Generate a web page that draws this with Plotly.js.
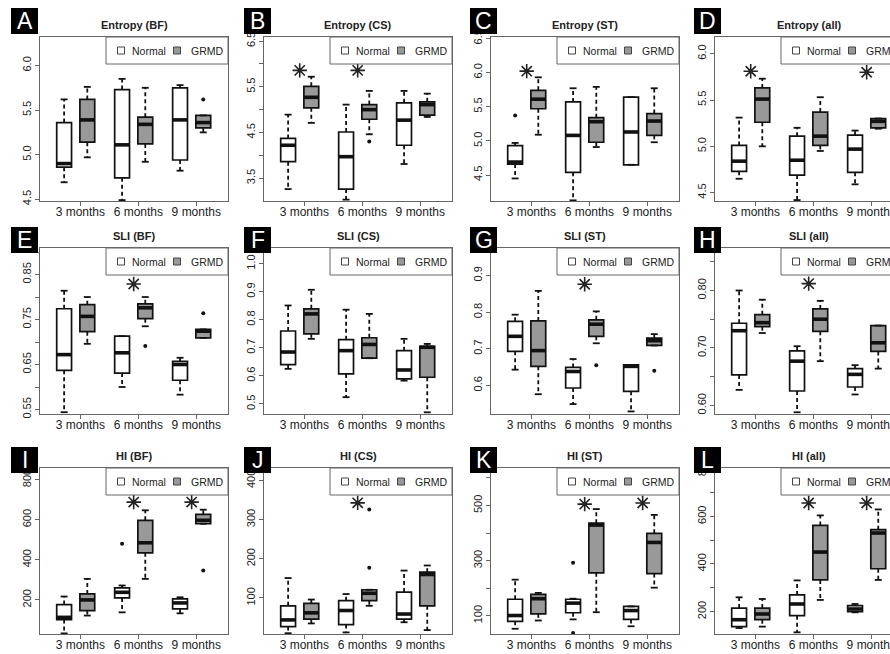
<!DOCTYPE html>
<html><head><meta charset="utf-8">
<script src="https://cdn.plot.ly/plotly-3.0.1.min.js"></script>
<style>html,body{margin:0;padding:0;overflow:hidden;background:#fff;width:890px;height:654px}</style>
</head><body><div id="chart" style="width:910px;height:654px"></div>
<script>
// ---------------- DATA ----------------
const panelLetters = ['A','B','C','D','E','F','G','H','I','J','K','L'];
const panelTitles = ['Entropy (BF)','Entropy (CS)','Entropy (ST)','Entropy (all)',
                     'SLI (BF)','SLI (CS)','SLI (ST)','SLI (all)',
                     'HI (BF)','HI (CS)','HI (ST)','HI (all)'];
const categories = ['3 months','6 months','9 months'];
const seriesNames = ['Normal','GRMD'];

// Normal: per panel [3 months, 6 months, 9 months]
const normalUpper = [[5.62,5.85,5.78],[4.89,5.11,5.41],[4.97,5.77,5.64],[5.31,5.20,5.17],
  [0.814,0.713,0.665],[0.851,0.836,0.732],[0.793,0.672,0.656],[0.800,0.703,0.670],
  [217,272,213],[151,110,170],[231,162,134],[260,331,232]];
const normalQ3 = [[5.36,5.73,5.75],[4.37,4.51,5.15],[4.93,5.57,5.64],[5.01,5.11,5.12],
  [0.774,0.713,0.657],[0.760,0.729,0.690],[0.775,0.649,0.656],[0.743,0.695,0.664],
  [177,260,205],[80,93,115],[160,160,134],[215,270,225]];
const normalMedian = [[4.90,5.11,5.39],[4.22,3.97,4.77],[4.69,5.08,5.13],[4.84,4.85,4.97],
  [0.672,0.676,0.650],[0.685,0.690,0.621],[0.734,0.638,0.652],[0.730,0.677,0.654],
  [113,238,185],[44,68,59],[101,146,119],[166,232,211]];
const normalQ1 = [[4.86,4.74,4.94],[3.86,3.26,4.22],[4.66,4.54,4.65],[4.73,4.69,4.72],
  [0.637,0.631,0.615],[0.640,0.607,0.589],[0.693,0.593,0.584],[0.653,0.625,0.632],
  [102,210,155],[27,32,46],[80,111,87],[137,183,200]];
const normalLower = [[4.69,4.49,4.82],[3.26,3.03,3.81],[4.45,4.13,4.65],[4.65,4.42,4.59],
  [0.544,0.600,0.583],[0.625,0.524,0.583],[0.643,0.549,0.529],[0.627,0.588,0.619],
  [33,138,133],[10,12,38],[53,87,62],[131,113,197]];

// GRMD: per panel [3 months, 6 months, 9 months]
const grmdUpper = [[5.76,5.75,5.44],[5.72,5.41,5.35],[5.93,5.79,5.77],[5.73,5.53,5.30],
  [0.800,0.800,0.728],[0.907,0.821,0.714],[0.858,0.802,0.740],[0.784,0.782,0.739],
  [305,647,650],[96,121,183],[183,487,466],[253,604,629]];
const grmdQ3 = [[5.62,5.42,5.44],[5.51,5.11,5.17],[5.74,5.34,5.40],[5.63,5.37,5.30],
  [0.783,0.785,0.728],[0.839,0.736,0.705],[0.776,0.779,0.729],[0.758,0.768,0.739],
  [230,597,627],[86,121,166],[178,436,399],[215,562,544]];
const grmdMedian = [[5.39,5.34,5.36],[5.27,5.00,5.11],[5.61,5.28,5.29],[5.51,5.11,5.27],
  [0.757,0.776,0.724],[0.821,0.712,0.702],[0.695,0.767,0.722],[0.744,0.750,0.709],
  [200,485,597],[62,112,160],[162,429,366],[190,450,530]];
const grmdQ1 = [[5.14,5.12,5.30],[5.04,4.79,4.88],[5.47,4.98,5.08],[5.26,5.01,5.20],
  [0.723,0.752,0.709],[0.750,0.663,0.595],[0.652,0.734,0.709],[0.737,0.729,0.694],
  [147,435,580],[46,93,80],[107,256,253],[166,333,380]];
const grmdLower = [[4.97,4.92,5.25],[4.71,4.46,4.84],[5.09,4.91,4.98],[5.00,4.95,5.19],
  [0.696,0.735,0.709],[0.732,0.663,0.470],[0.576,0.715,0.709],[0.726,0.677,0.664],
  [122,305,580],[35,80,18],[83,113,202],[137,249,333]];

// Outliers (panel index, series 0=Normal 1=GRMD, group index, value)
const outlierPanel  = [0,1,2,4,4,6,6,8,8,9,9,10,10];
const outlierSeries = [1,1,0,1,1,1,1,0,1,1,1,0,0];
const outlierGroup  = [2,1,0,1,2,1,2,1,2,1,1,1,1];
const outlierValue  = [5.62,4.30,5.37,0.691,0.764,0.655,0.640,480,347,326,177,292,38];

// Significance stars (panel index, group index, value)
const starPanel = [1,1,2,3,3,4,6,7,8,8,9,10,10,11,11];
const starGroup = [0,1,0,0,2,1,1,1,1,2,1,1,2,1,2];
const starValue = [5.86,5.86,6.02,5.81,5.80,0.829,0.876,0.812,688,688,343,505,509,656,656];

// Axes
const yRanges = [[4.48,6.32],[3.0,6.59],[4.12,6.52],[4.41,6.18],
  [0.54,0.909],[0.464,1.056],[0.522,0.975],[0.585,0.874],
  [30,858],[8,432],[34,636],[106,803]];
const yTickVals = [[4.5,5,5.5,6],[3.5,4,4.5,5,5.5,6,6.5],[4.5,5,5.5,6,6.5],[4.5,5,5.5,6],
  [0.55,0.6,0.65,0.7,0.75,0.8,0.85,0.9],[0.5,0.6,0.7,0.8,0.9,1.0],[0.6,0.7,0.8,0.9],[0.6,0.65,0.7,0.75,0.8,0.85],
  [200,400,600,800],[100,200,300,400],[100,200,300,400,500,600],[200,300,400,500,600,700,800]];
const yTickText = [['4.5','5.0','5.5','6.0'],['3.5','','4.5','','5.5','','6.5'],['4.5','5.0','5.5','6.0','6.5'],['4.5','5.0','5.5','6.0'],
  ['0.55','','0.65','','0.75','','0.85',''],['0.5','0.6','0.7','0.8','0.9','1.0'],['0.6','0.7','0.8','0.9'],['0.60','','0.70','','0.80',''],
  ['200','400','600','800'],['100','200','300','400'],['100','','300','','500',''],['200','','400','','600','','800']];

// ---------------- LAYOUT GEOMETRY ----------------
const W = 910, H = 654;
const colLeft = [40, 264, 491, 715], plotW = 188;
const rowTop = [37, 248, 468], rowBot = [201, 414, 634];
const letterX = [11, 244, 470, 694], letterY = [8, 227, 447], letterW = 27, letterH = 26;
const xRange = [0.304, 3.547];
const groupPos = [1, 2, 3];
const seriesOffset = [-0.28, 0.12];
const boxW = 0.256, capW = 0.12;
const fills = ['#ffffff', '#999999'];
const ink = '#111111', frame = '#666666';
const FONT = 'Liberation Sans, Arial, Helvetica, sans-serif';
const px = v => v / W, py = v => 1 - v / H;

const traces = [], shapes = [], annotations = [];
const layout = {
  width: W, height: H, margin: {l:0, r:0, t:0, b:0},
  paper_bgcolor: '#fff', plot_bgcolor: '#fff', showlegend: false,
  boxmode: 'overlay', font: {family: FONT, color: '#222'}
};

const stats = [
  [normalLower, normalQ1, normalMedian, normalQ3, normalUpper],
  [grmdLower, grmdQ1, grmdMedian, grmdQ3, grmdUpper]
];

for (let p = 0; p < 12; p++) {
  const r = Math.floor(p / 4), c = p % 4;
  const sfx = p === 0 ? '' : String(p + 1);
  const xa = 'x' + sfx, ya = 'y' + sfx;
  const L = colLeft[c], R = colLeft[c] + plotW, T = rowTop[r], B = rowBot[r];

  layout['xaxis' + sfx] = {
    domain: [px(L), px(R)], range: xRange, anchor: ya,
    tickmode: 'array', tickvals: groupPos, ticktext: categories,
    showline: true, mirror: true, linecolor: frame, linewidth: 1,
    ticks: 'outside', ticklen: 4, tickcolor: frame, tickwidth: 1,
    ticklabelstandoff: -4,
    tickfont: {size: 12, color: '#222', family: FONT},
    showgrid: false, zeroline: false, fixedrange: true
  };
  layout['yaxis' + sfx] = {
    domain: [py(B), py(T)], range: yRanges[p], anchor: xa,
    tickmode: 'array', tickvals: yTickVals[p], ticktext: yTickText[p], tickangle: -90,
    showline: true, mirror: true, linecolor: frame, linewidth: 1,
    ticks: 'outside', ticklen: 4, tickcolor: frame, tickwidth: 1,
    tickfont: {size: 11, color: '#222', family: FONT},
    showgrid: false, zeroline: false, fixedrange: true
  };

  const wx = [], wy = [], cx = [], cy = [], mx = [], my = [];
  for (let s = 0; s < 2; s++) {
    const [lo, q1, med, q3, hi] = stats[s].map(a => a[p]);
    const pos = groupPos.map(g => g + seriesOffset[s]);
    traces.push({
      type: 'box', name: seriesNames[s], x: pos,
      q1: q1, median: med, q3: q3, lowerfence: q1, upperfence: q3,
      width: boxW, whiskerwidth: 0, boxpoints: false,
      fillcolor: fills[s], line: {color: ink, width: 1.7},
      xaxis: xa, yaxis: ya, hoverinfo: 'skip', showlegend: false
    });
    pos.forEach((x, i) => {
      wx.push(x, x, null, x, x, null);
      wy.push(q3[i], hi[i], null, q1[i], lo[i], null);
      cx.push(x - capW/2, x + capW/2, null, x - capW/2, x + capW/2, null);
      cy.push(hi[i], hi[i], null, lo[i], lo[i], null);
      mx.push(x - boxW/2, x + boxW/2, null);
      my.push(med[i], med[i], null);
    });
  }
  traces.push({type:'scatter', mode:'lines', x:wx, y:wy, xaxis:xa, yaxis:ya,
    line:{color:ink, width:1.8, dash:'4px,3px'}, hoverinfo:'skip', showlegend:false});
  traces.push({type:'scatter', mode:'lines', x:cx, y:cy, xaxis:xa, yaxis:ya,
    line:{color:ink, width:1.8}, hoverinfo:'skip', showlegend:false});
  traces.push({type:'scatter', mode:'lines', x:mx, y:my, xaxis:xa, yaxis:ya,
    line:{color:ink, width:3.6}, hoverinfo:'skip', showlegend:false});

  const ox = [], oy = [];
  outlierPanel.forEach((pp, k) => {
    if (pp === p) { ox.push(groupPos[outlierGroup[k]] + seriesOffset[outlierSeries[k]]); oy.push(outlierValue[k]); }
  });
  traces.push({type:'scatter', mode:'markers', x:ox, y:oy, xaxis:xa, yaxis:ya,
    marker:{color:ink, size:4}, hoverinfo:'skip', showlegend:false});

  const sx = [], sy = [];
  starPanel.forEach((pp, k) => {
    if (pp === p) { sx.push(groupPos[starGroup[k]] + (seriesOffset[0] + seriesOffset[1]) / 2); sy.push(starValue[k]); }
  });
  traces.push({type:'scatter', mode:'markers', x:sx, y:sy, xaxis:xa, yaxis:ya,
    marker:{symbol:'asterisk-open', size:12, color:'#222', line:{color:'#222', width:1.6}},
    hoverinfo:'skip', showlegend:false});

  // panel title
  annotations.push({xref:'paper', yref:'paper', x:px((L + R) / 2), y:py(T - 12),
    text:'<b>' + panelTitles[p] + '</b>', showarrow:false, xanchor:'center', yanchor:'middle',
    font:{size:11, color:'#222', family:FONT}});

  // legend box
  const lgL = L + 66, lgB = T + 27, lgMid = T + 13.5;
  shapes.push({type:'rect', xref:'paper', yref:'paper', x0:px(lgL), x1:px(R), y0:py(lgB), y1:py(T),
    fillcolor:'#fff', line:{color:frame, width:1}, layer:'above'});
  const keyX = [lgL + 15, lgL + 71], textX = [lgL + 25, lgL + 84];
  for (let s = 0; s < 2; s++) {
    shapes.push({type:'rect', xref:'paper', yref:'paper',
      x0:px(keyX[s] - 3.5), x1:px(keyX[s] + 3.5), y0:py(lgMid + 3.5), y1:py(lgMid - 3.5),
      fillcolor:fills[s], line:{color:'#444', width:1}, layer:'above'});
    annotations.push({xref:'paper', yref:'paper', x:px(textX[s]), y:py(lgMid), text:seriesNames[s],
      showarrow:false, xanchor:'left', yanchor:'middle', borderpad:0,
      font:{size:10.5, color:'#222', family:FONT}});
  }

  // panel letter
  const lx = letterX[c], ly = letterY[r];
  shapes.push({type:'rect', xref:'paper', yref:'paper', x0:px(lx), x1:px(lx + letterW),
    y0:py(ly + letterH), y1:py(ly), fillcolor:'#000', line:{width:0}, layer:'above'});
  annotations.push({xref:'paper', yref:'paper', x:px(lx + letterW / 2), y:py(ly + letterH / 2),
    text:panelLetters[p], showarrow:false, xanchor:'center', yanchor:'middle',
    font:{size:23, color:'#fff', family:FONT}});
}
layout.shapes = shapes;
layout.annotations = annotations;

Plotly.newPlot('chart', traces, layout, {staticPlot: true, displayModeBar: false});
</script></body></html>
